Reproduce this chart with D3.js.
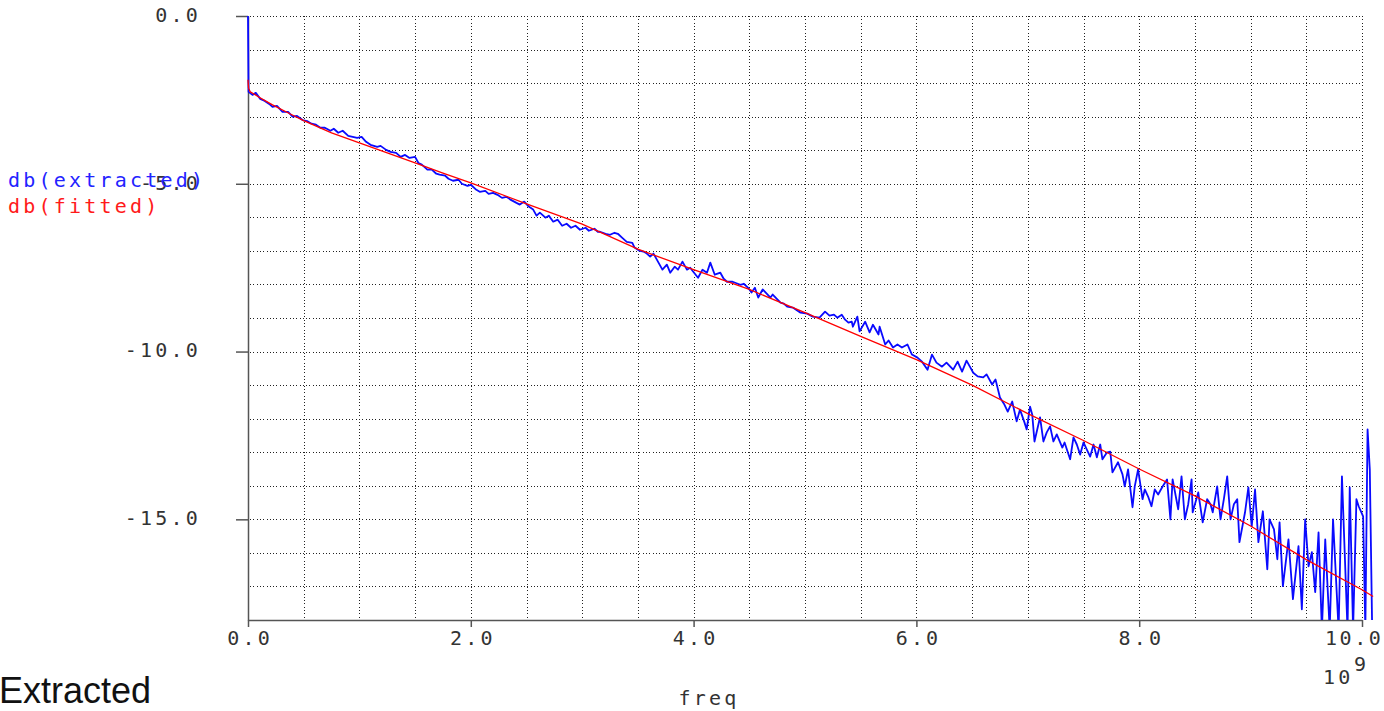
<!DOCTYPE html>
<html>
<head>
<meta charset="utf-8">
<script src="https://cdn.jsdelivr.net/npm/d3@7"></script>
<style>
body{margin:0;background:#fff;}
svg{display:block;}
.lbl{font-family:"DejaVu Sans Mono",monospace;font-size:20px;letter-spacing:3.2px;}
</style>
</head>
<body>
<script>
// axis labels
var xTicks=[0,2,4,6,8,10];
var yTicks=[0,-5,-10,-15];
var seriesNames=['db(extracted)','db(fitted)'];
var seriesColors=['#2323ff','#ff1a1a'];

// [freq GHz, dB]
var fitted=[[0,-1.9],[0.005,-2.15],[0.02,-2.26],[0.1,-2.42],[0.22,-2.65],[0.38,-2.92],[0.5,-3.12],[0.75,-3.48],
[1.0,-3.78],[1.25,-4.08],[1.5,-4.38],[1.75,-4.68],[2.0,-4.97],[2.5,-5.6],[3.0,-6.2],[3.5,-6.95],[4.0,-7.56],
[4.5,-8.15],[5.0,-8.84],[5.5,-9.55],[6.0,-10.24],[6.5,-11.0],[7.0,-11.85],[7.5,-12.65],[8.0,-13.5],[8.5,-14.3],
[9.0,-15.2],[9.5,-16.2],[10.0,-17.1],[10.1,-17.3]];

var extracted=[[0,0],[0.005,-2.26],[0.04,-2.35],[0.07,-2.29],[0.11,-2.47],[0.15,-2.53],[0.19,-2.62],[0.22,-2.71],
[0.26,-2.68],[0.31,-2.86],[0.36,-2.86],[0.40,-3.0],[0.44,-2.98],[0.49,-3.10],[0.53,-3.13],[0.57,-3.21],[0.61,-3.24],
[0.65,-3.33],[0.69,-3.33],[0.74,-3.42],[0.77,-3.36],[0.81,-3.48],[0.85,-3.42],[0.90,-3.57],[0.94,-3.60],[0.98,-3.63],
[1.02,-3.60],[1.06,-3.75],[1.10,-3.84],[1.16,-3.90],[1.19,-3.87],[1.24,-3.99],[1.28,-4.05],[1.33,-4.08],[1.37,-4.20],
[1.41,-4.14],[1.45,-4.23],[1.50,-4.20],[1.53,-4.38],[1.56,-4.43],[1.61,-4.58],[1.65,-4.58],[1.69,-4.70],[1.72,-4.73],
[1.77,-4.76],[1.80,-4.85],[1.84,-4.91],[1.89,-4.88],[1.92,-5.00],[1.97,-5.06],[2.00,-5.03],[2.05,-5.18],[2.08,-5.24],
[2.13,-5.21],[2.16,-5.30],[2.20,-5.27],[2.24,-5.33],[2.28,-5.42],[2.32,-5.39],[2.36,-5.48],[2.41,-5.57],[2.44,-5.62],
[2.48,-5.53],[2.52,-5.68],[2.56,-5.77],[2.59,-5.95],[2.62,-5.86],[2.67,-6.01],[2.70,-5.95],[2.74,-6.13],[2.78,-6.07],
[2.82,-6.25],[2.86,-6.19],[2.90,-6.31],[2.94,-6.25],[2.98,-6.37],[3.03,-6.31],[3.06,-6.40],[3.11,-6.34],[3.14,-6.43],
[3.16,-6.43],[3.21,-6.49],[3.25,-6.52],[3.29,-6.46],[3.32,-6.49],[3.36,-6.61],[3.40,-6.73],[3.45,-6.76],[3.47,-6.90],
[3.51,-6.99],[3.55,-7.02],[3.58,-7.08],[3.61,-7.17],[3.64,-7.08],[3.68,-7.32],[3.72,-7.56],[3.76,-7.41],[3.79,-7.65],
[3.83,-7.47],[3.86,-7.56],[3.90,-7.32],[3.94,-7.56],[3.97,-7.50],[3.99,-7.59],[4.04,-7.80],[4.08,-7.56],[4.12,-7.65],
[4.15,-7.35],[4.19,-7.71],[4.24,-7.65],[4.27,-7.83],[4.30,-7.92],[4.35,-7.92],[4.42,-8.01],[4.45,-7.98],[4.49,-8.10],
[4.52,-8.24],[4.55,-8.10],[4.58,-8.39],[4.62,-8.15],[4.69,-8.39],[4.71,-8.30],[4.78,-8.54],[4.81,-8.57],[4.84,-8.66],
[4.89,-8.69],[4.96,-8.84],[5.02,-8.87],[5.07,-8.96],[5.13,-8.99],[5.18,-8.81],[5.22,-8.93],[5.26,-8.90],[5.29,-8.99],
[5.33,-8.90],[5.36,-9.05],[5.39,-9.14],[5.42,-9.11],[5.43,-9.26],[5.47,-8.96],[5.49,-9.40],[5.54,-9.11],[5.58,-9.43],
[5.61,-9.20],[5.66,-9.49],[5.67,-9.26],[5.72,-9.79],[5.75,-9.67],[5.79,-9.88],[5.83,-9.79],[5.87,-9.88],[5.92,-9.79],
[5.96,-10.09],[6.01,-10.18],[6.05,-10.30],[6.10,-10.54],[6.14,-10.09],[6.18,-10.33],[6.23,-10.45],[6.27,-10.33],
[6.33,-10.54],[6.37,-10.30],[6.41,-10.60],[6.45,-10.27],[6.48,-10.45],[6.51,-10.63],[6.55,-10.74],[6.60,-10.77],
[6.63,-10.68],[6.68,-10.98],[6.71,-10.83],[6.75,-11.37],[6.79,-11.58],[6.82,-11.79],[6.86,-11.49],[6.90,-12.08],
[6.93,-11.73],[6.97,-12.11],[6.99,-12.32],[7.02,-11.64],[7.04,-11.88],[7.06,-12.68],[7.11,-11.96],[7.14,-12.68],
[7.17,-12.41],[7.20,-12.23],[7.23,-12.68],[7.26,-12.47],[7.31,-12.86],[7.33,-12.71],[7.38,-13.21],[7.41,-12.56],
[7.44,-12.77],[7.47,-13.07],[7.50,-12.71],[7.53,-12.92],[7.56,-13.13],[7.59,-12.77],[7.62,-13.15],[7.65,-12.77],
[7.67,-13.21],[7.71,-13.01],[7.74,-12.98],[7.76,-13.60],[7.81,-13.30],[7.85,-13.66],[7.87,-14.02],[7.90,-13.51],
[7.94,-14.64],[7.96,-14.02],[7.99,-13.51],[8.03,-14.40],[8.05,-14.11],[8.08,-14.32],[8.11,-14.61],[8.14,-14.11],
[8.17,-14.26],[8.21,-14.02],[8.25,-13.81],[8.28,-15.00],[8.30,-13.81],[8.35,-14.70],[8.38,-13.72],[8.41,-15.00],
[8.44,-14.55],[8.47,-13.81],[8.48,-14.79],[8.53,-14.20],[8.57,-15.09],[8.61,-14.40],[8.64,-14.55],[8.66,-14.79],
[8.70,-14.02],[8.73,-15.00],[8.76,-14.40],[8.79,-13.72],[8.82,-15.00],[8.85,-14.55],[8.88,-14.40],[8.90,-15.68],
[8.95,-14.79],[8.98,-14.05],[9.01,-15.21],[9.04,-14.11],[9.07,-15.68],[9.11,-14.76],[9.15,-16.49],[9.17,-15.00],
[9.21,-15.30],[9.24,-16.19],[9.26,-15.09],[9.29,-16.99],[9.34,-15.60],[9.38,-17.38],[9.43,-15.80],[9.46,-17.68],
[9.49,-15.00],[9.52,-16.40],[9.55,-15.98],[9.58,-17.17],[9.61,-15.39],[9.64,-18.3],[9.67,-15.60],[9.71,-18.3],
[9.74,-15.00],[9.79,-18.3],[9.82,-13.72],[9.87,-18.3],[9.89,-14.05],[9.92,-18.3],[9.95,-14.40],[9.97,-14.61],
[10.01,-14.91],[10.03,-18.3],[10.05,-12.32],[10.07,-13.51],[10.09,-18.0]];

var width=1384, height=711;

var svg=d3.select('body').append('svg')
    .attr('width',width)
    .attr('height',height);

var x=d3.scaleLinear().domain([0,10]).range([248,1362]);
var y=d3.scaleLinear().domain([-18,0]).range([620,16]);

svg.append('clipPath').attr('id','plotClip')
    .append('rect')
    .attr('x',246).attr('y',0)
    .attr('width',width-246).attr('height',620);

//grid
var grid=svg.append('g')
    .attr('stroke','#222')
    .attr('stroke-dasharray','1,2.3')
    .attr('shape-rendering','crispEdges');
grid.selectAll('.hg')
    .data(y.ticks(18).filter(d=>d>-18))
    .enter().append('line')
    .attr('class','hg')
    .attr('x1',x(0)+2).attr('x2',x(10))
    .attr('y1',d=>Math.round(y(d))+0.5).attr('y2',d=>Math.round(y(d))+0.5);
grid.selectAll('.vg')
    .data(x.ticks(20).filter(d=>d>0))
    .enter().append('line')
    .attr('class','vg')
    .attr('x1',d=>Math.round(x(d))+0.5).attr('x2',d=>Math.round(x(d))+0.5)
    .attr('y1',y(0)).attr('y2',y(-18));

//axes
var yAxis=svg.append('g')
    .attr('transform','translate('+x(0)+',0)')
    .attr('color','#555')
    .call(d3.axisLeft(y).tickValues(yTicks).tickSize(12).tickSizeOuter(0).tickPadding(35).tickFormat(d3.format('.1f')));
yAxis.select('.domain').attr('stroke-width',1.5);
yAxis.selectAll('line').attr('stroke-width',1.5);
yAxis.selectAll('text')
    .attr('class','lbl')
    .attr('fill','#333')
    .attr('dy','0.27em')
    .text(d=>d3.format('.1f')(d).replace('−','-'));

var xAxis=svg.append('g')
    .attr('transform','translate(0,'+y(-18)+')')
    .attr('color','#555')
    .call(d3.axisBottom(x).tickValues(xTicks).tickSize(7).tickSizeOuter(0).tickFormat(d3.format('.1f')));
xAxis.select('.domain').attr('stroke-width',1.5);
xAxis.selectAll('line').attr('stroke-width',1.5);
xAxis.selectAll('text')
    .attr('class','lbl')
    .attr('fill','#333')
    .attr('y',25).attr('dy',0).attr('dx',1.6);
// last label is pulled in so it stays on the page
xAxis.selectAll('text').filter(d=>d===10)
    .attr('text-anchor','end')
    .style('letter-spacing','2.6px')
    .attr('x',1383-x(10)).attr('dx',0);

//traces
var line=d3.line()
    .x(d=>x(d[0]))
    .y(d=>y(d[1]));

var plot=svg.append('g').attr('clip-path','url(#plotClip)');
plot.append('path')
    .datum(extracted)
    .attr('d',line)
    .attr('fill','none')
    .attr('stroke','#0a0aff')
    .attr('stroke-width',1.8)
    .attr('stroke-linejoin','round');
plot.append('path')
    .datum(fitted)
    .attr('d',line)
    .attr('fill','none')
    .attr('stroke','#ff0000')
    .attr('stroke-width',1.3);

//legend
svg.selectAll('.legend')
    .data(seriesNames)
    .enter().append('text')
    .attr('class','lbl legend')
    .attr('x',8)
    .attr('y',(d,i)=>187+i*26)
    .attr('fill',(d,i)=>seriesColors[i])
    .text(d=>d);

//labels
svg.append('text')
    .attr('class','lbl')
    .attr('x',709).attr('y',705)
    .attr('text-anchor','middle')
    .attr('fill','#333')
    .text('freq');
svg.append('text')
    .attr('class','lbl')
    .attr('x',1323).attr('y',684)
    .attr('fill','#333')
    .text('10');
svg.append('text')
    .attr('class','lbl')
    .attr('x',1354).attr('y',671)
    .attr('fill','#333')
    .text('9');
svg.append('text')
    .attr('x',-1).attr('y',703)
    .style('font-family','"Liberation Sans", Arial, sans-serif')
    .style('font-size','36px')
    .attr('fill','#111')
    .text('Extracted');
</script>
</body>
</html>
